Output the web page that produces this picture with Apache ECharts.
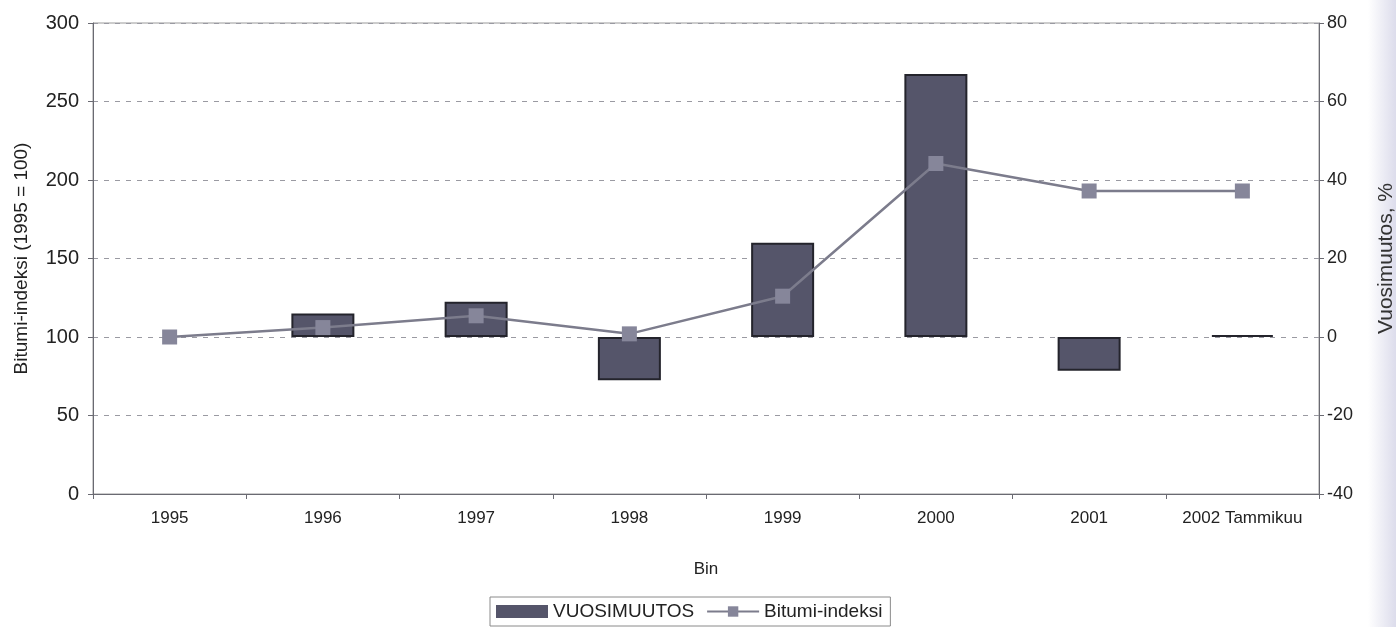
<!DOCTYPE html>
<html>
<head>
<meta charset="utf-8">
<title>Bitumi-indeksi ja vuosimuutos</title>
<script src="https://cdn.jsdelivr.net/npm/echarts@6/dist/echarts.min.js"></script>
<style>
  html, body { margin: 0; padding: 0; background: #ffffff; }
  #chart { width: 1396px; height: 627px; }
</style>
</head>
<body>
<div id="chart"></div>
<script>
// Vuodet (luokka-akseli)
const categories = ['1995', '1996', '1997', '1998', '1999', '2000', '2001', '2002 Tammikuu'];
// Vuosimuutos, % (oikea akseli); 1995 on perusvuosi, ei muutosta
const vuosimuutos = ['-', 6, 9, -11, 24, 67, -8.6, 0];
// Bitumi-indeksi, 1995 = 100 (vasen akseli)
const bitumiIndeksi = [100, 106, 113.5, 102, 126, 210.5, 193, 193];
// Akselien asteikot
const leftAxis = { min: 0, max: 300, interval: 50 };
const rightAxis = { min: -40, max: 80, interval: 20 };

const FONT = '"Liberation Sans", Arial, sans-serif';
const chart = echarts.init(document.getElementById('chart'), null, { renderer: 'canvas' });

const gridLine = { show: true, lineStyle: { color: '#9a9aa2', type: [5, 6], width: 1 } };

chart.setOption({
  backgroundColor: '#ffffff',
  animation: false,
  grid: {
    left: 93, right: 77, top: 23, bottom: 133,
    containLabel: false,
    outerBoundsMode: 'none',
    show: true, borderColor: '#9a9a9a', borderWidth: 1, backgroundColor: 'transparent'
  },
  legend: {
    left: 490, top: 597,
    padding: [5, 8, 5, 6],
    itemWidth: 52, itemHeight: 13, itemGap: 12,
    borderColor: '#8a8a8a', borderWidth: 1,
    textStyle: { fontFamily: FONT, fontSize: 19, color: '#222' },
    data: [
      { name: 'VUOSIMUUTOS', icon: 'rect', itemStyle: { borderWidth: 0 } },
      { name: 'Bitumi-indeksi' }
    ]
  },
  xAxis: {
    type: 'category',
    data: categories,
    name: 'Bin',
    nameLocation: 'middle',
    nameGap: 67,
    nameTextStyle: { fontFamily: FONT, fontSize: 17, color: '#222' },
    axisLine: { show: true, lineStyle: { color: '#6a6a72', width: 1 } },
    axisTick: { show: true, alignWithLabel: false, interval: 0, length: 5, lineStyle: { color: '#6a6a72' } },
    axisLabel: { fontFamily: FONT, fontSize: 17, color: '#222', margin: 16, interval: 0, hideOverlap: false },
    splitLine: { show: false }
  },
  yAxis: [
    {
      type: 'value',
      min: leftAxis.min, max: leftAxis.max, interval: leftAxis.interval,
      name: 'Bitumi-indeksi (1995 = 100)',
      nameLocation: 'middle',
      nameRotate: 90,
      nameGap: 62,
      nameTextStyle: { fontFamily: FONT, fontSize: 19, color: '#222' },
      axisLine: { show: true, lineStyle: { color: '#6a6a72', width: 1 } },
      axisTick: { show: true, length: 5, lineStyle: { color: '#6a6a72' } },
      axisLabel: { fontFamily: FONT, fontSize: 20, color: '#222', margin: 14 },
      splitLine: gridLine
    },
    {
      type: 'value',
      position: 'right',
      min: rightAxis.min, max: rightAxis.max, interval: rightAxis.interval,
      name: 'Vuosimuutos, %',
      nameLocation: 'middle',
      nameRotate: 90,
      nameGap: 57,
      nameTextStyle: { fontFamily: FONT, fontSize: 21, color: '#333' },
      axisLine: { show: true, lineStyle: { color: '#6a6a72', width: 1 } },
      axisTick: { show: true, length: 5, lineStyle: { color: '#6a6a72' } },
      axisLabel: { fontFamily: FONT, fontSize: 18, color: '#222', margin: 8 },
      splitLine: { show: false }
    }
  ],
  series: [
    {
      name: 'VUOSIMUUTOS',
      type: 'bar',
      yAxisIndex: 1,
      data: vuosimuutos,
      barWidth: 63,
      barMinHeight: 2,
      itemStyle: { color: '#55556a', borderColor: '#24242c', borderWidth: 2 },
      z: 2
    },
    {
      name: 'Bitumi-indeksi',
      type: 'line',
      yAxisIndex: 0,
      data: bitumiIndeksi,
      symbol: 'rect',
      symbolSize: 15,
      lineStyle: { color: '#7c7c8c', width: 2.5 },
      itemStyle: { color: '#86869a' },
      z: 3
    }
  ],
  graphic: [
    {
      type: 'rect',
      right: 0, top: 0,
      shape: { width: 28, height: 627 },
      style: {
        fill: new echarts.graphic.LinearGradient(0, 0, 1, 0, [
          { offset: 0, color: 'rgba(214,214,232,0)' },
          { offset: 1, color: 'rgba(214,214,232,0.85)' }
        ])
      },
      silent: true,
      z: -1
    }
  ]
});
</script>
</body>
</html>
